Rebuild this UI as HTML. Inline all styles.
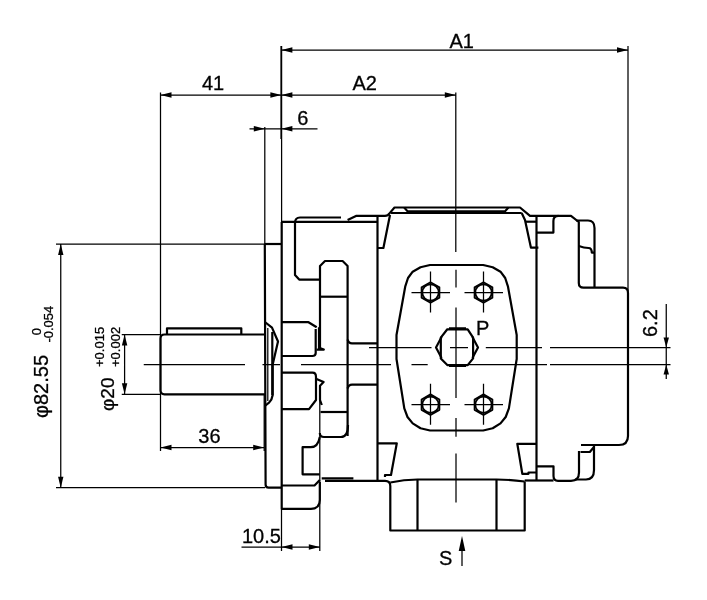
<!DOCTYPE html>
<html lang="en"><head><meta charset="utf-8"><title>Pump dimension drawing</title>
<style>html,body{margin:0;padding:0;background:#fff}svg{display:block}</style>
</head><body>
<svg width="707" height="600" viewBox="0 0 707 600">
<rect width="707" height="600" fill="#fff"/>
<g fill="none" stroke="#000" stroke-width="1.25">
<path d="M281.60 46.00V222.00M281.00 46.00V139.00M281.40 50.00H628.00M628.00 46.00V296.00M160.50 95.00H455.80M160.50 92.50V451.00M455.80 92.50V252.00M249.50 128.75H317.50M264.80 127.00V244.00M56.00 244.00H265.00M56.00 487.70H265.00M60.75 244.00V487.70M121.75 334.50H160.50M121.75 394.30H160.50M124.60 334.50V394.30M160.50 447.50H264.20M264.20 395.00V451.00M281.50 509.00V551.00M319.80 400.00V551.00M241.50 547.00H319.80M666.25 304.00V379.00M369.00 347.60H431.50M450.00 347.60H468.00M485.80 347.60H542.00M550.00 347.60H670.50M143.75 364.60H245.00M262.50 364.60H280.00M301.00 364.60H391.00M411.50 364.60H427.70M466.70 364.60H547.00M550.00 364.60H670.50M456.00 269.70V287.60M456.00 307.60V398.00M456.00 418.00V436.80M456.00 453.50V502.50M462.00 540.00V566.00M411.50 292.50H450.00M430.50 271.50V312.50M464.50 292.50H503.00M483.50 271.50V312.50M411.50 404.70H450.00M430.50 383.70V424.70M464.50 404.70H503.00M483.50 383.70V424.70M267.8 328V401"/>
</g>
<g fill="#000" stroke="none"><polygon points="281.40,50.00 292.40,47.30 292.40,52.70"/><polygon points="628.00,50.00 617.00,47.30 617.00,52.70"/><polygon points="160.50,95.00 171.50,92.30 171.50,97.70"/><polygon points="281.40,95.00 270.40,92.30 270.40,97.70"/><polygon points="281.40,95.00 292.40,92.30 292.40,97.70"/><polygon points="455.80,95.00 444.80,92.30 444.80,97.70"/><polygon points="264.80,128.75 253.80,126.05 253.80,131.45"/><polygon points="281.40,128.75 292.40,126.05 292.40,131.45"/><polygon points="60.75,244.00 58.05,255.00 63.45,255.00"/><polygon points="60.75,487.70 58.05,476.70 63.45,476.70"/><polygon points="124.60,334.50 121.90,345.50 127.30,345.50"/><polygon points="124.60,394.30 121.90,383.30 127.30,383.30"/><polygon points="160.50,447.50 171.50,444.80 171.50,450.20"/><polygon points="264.20,447.50 253.20,444.80 253.20,450.20"/><polygon points="281.50,547.00 292.50,544.30 292.50,549.70"/><polygon points="319.80,547.00 308.80,544.30 308.80,549.70"/><polygon points="666.25,347.50 663.55,337.50 668.95,337.50"/><polygon points="666.25,364.60 663.55,374.60 668.95,374.60"/><polygon points="462.00,536.00 458.70,551.00 465.30,551.00"/></g>
<g fill="none" stroke="#000" stroke-width="2.2" stroke-linejoin="round" stroke-linecap="butt">
<path d="M265 334.5H164.5Q160.5 334.5 160.5 338.5V390.3Q160.5 394.3 164.5 394.3H265"/>
<path d="M167 334.5V328.3H241.3V334.5"/>
<path d="M264.8 244L265.6 484.5Q265.6 487.7 268.6 487.7H281.5"/>
<path d="M264.9 244H281.5"/>
<path d="M281.7 222V508.8H311Q319.8 508.8 319.8 500V482"/>
<path d="M281.7 221.8H377"/>
<path d="M341 217.5H300Q295 217.5 295 223V275L299.2 279.6H320"/>
<path d="M347.6 220L356 215.9H385Q388 215.9 389.5 213.4L394.5 207.5H520L530 215.9H571L578.8 222V283Q578.8 287.7 583.5 287.7H623Q628 287.7 628 293V436Q628 445 619 445H581"/>
<path d="M391 213H521.7"/>
<path d="M404.2 207.5L407.6 211.4H505L508.4 207.5"/>
<path d="M377.5 216.4V481"/>
<path d="M377.5 248H383.4L390 215"/>
<path d="M521.7 213L525 220L530.9 247.6H538.4"/>
<path d="M526 221.7H536.4"/>
<path d="M536.5 215.9V480"/>
<path d="M536.5 232.6H553.4V221Q553.4 215.9 558.4 215.9"/>
<path d="M576 220.5H588Q594.5 220.5 594.5 228V287.7"/>
<path d="M578.8 246Q584 248 588.5 248Q591.8 248 591.8 252.6H594.5"/>
<path d="M320 349V266L325 261H342.6L347.6 266V436"/>
<path d="M320 296.7H347.6"/>
<path d="M347.6 339.5Q348.5 343.4 352 343.4H377.5"/>
<path d="M347.6 388.5Q348.5 384.7 352 384.7H377.5"/>
<path d="M281.7 322.2H308.5L316.7 327.3"/>
<path d="M315.7 329V353Q315.7 356 312.3 356H281.7"/>
<path d="M319 327.3V347.7L323.8 349.6H316.5"/>
<path d="M281.7 372.7H312.5Q316 372.7 316 377V400L309 409.2H281.7"/>
<path d="M316.5 379L323.6 382L320 385.7V400L321.8 405"/>
<path d="M264.9 322L272 327.6L278 341.5L272.7 364.6V395Q272 400 269 402.7L264.9 406"/>
<path d="M272.3 332V395"/>
<path d="M320.5 412H348"/>
<path d="M348 425Q348 437 341 437H324Q319.8 437 319.8 433"/>
<path d="M319.8 437Q318 447.2 310.8 447.2H302.6V474.3H319.8"/>
<path d="M321.7 478.4H353.4"/>
<path d="M325 480.9H385Q390.3 480.9 390.3 486V530.5H524.7V481.5"/>
<path d="M281.7 485.5H314.5L319.8 480"/>
<path d="M417.5 479.5V530.5M496.5 479.5V530.5"/>
<path d="M390.3 482.5Q404 479.5 417.5 479.5H496.5Q510 479.5 524.7 481.5"/>
<path d="M377.5 443.3H396.8L391 475H385V477"/>
<path d="M536.5 443.8H517.3L522.3 473.8H528.5V472.5H536.5"/>
<path d="M524.7 480.5H553.5"/>
<path d="M536.5 466.3H553.5V476Q553.5 480.8 558 480.8H571Q579 480.8 579 472.5V451"/>
<path d="M594 445V470Q594 479.5 586 479.5H575"/>
<path d="M580.5 452H589.8L594 447"/>
<path d="M430.00 430.50L420.50 428.20L412.70 423.40L407.50 417.00L404.30 408.40L396.50 359.00L396.50 335.00L405.20 286.70L408.00 278.00L412.70 271.70L420.50 267.30L430.00 265.00L483.20 265.00L492.70 267.30L500.50 271.70L505.20 278.00L508.00 286.70L516.70 335.00L516.70 359.00L508.90 408.40L505.70 417.00L500.50 423.40L492.70 428.20L483.20 430.50Z"/>
<path d="M447.3 329.3H467.7L473.1 337.6V358.4L467.7 365.1H447.3L440.8 358.4V337.6Z"/>
<path d="M449 328.4H466M449 366H466"/>
<path d="M441.6 337L436 347.4L441.6 358M472.4 337L478 347.4L472.4 358"/>
</g>
<g fill="none" stroke="#000" stroke-width="1.8" stroke-linejoin="round">
<path d="M430.50 302.80L421.58 297.65L421.58 287.35L430.50 282.20L439.42 287.35L439.42 297.65Z"/>
<path d="M483.50 302.80L474.58 297.65L474.58 287.35L483.50 282.20L492.42 287.35L492.42 297.65Z"/>
<path d="M430.50 415.00L421.58 409.85L421.58 399.55L430.50 394.40L439.42 399.55L439.42 409.85Z"/>
<path d="M483.50 415.00L474.58 409.85L474.58 399.55L483.50 394.40L492.42 399.55L492.42 409.85Z"/>
<circle cx="430.5" cy="292.5" r="8.2"/>
<circle cx="483.5" cy="292.5" r="8.2"/>
<circle cx="430.5" cy="404.7" r="8.2"/>
<circle cx="483.5" cy="404.7" r="8.2"/>
</g>
<g fill="#000" opacity="0.999" stroke="#000" stroke-width="0.3" font-family="'Liberation Sans', sans-serif">
<text x="449.50" y="47.50" font-size="20">A1</text>
<text x="352.50" y="90.00" font-size="20">A2</text>
<text x="202.00" y="90.00" font-size="20">41</text>
<text x="297.30" y="124.50" font-size="20">6</text>
<text x="198.30" y="442.50" font-size="20">36</text>
<text x="242.00" y="542.50" font-size="20">10.5</text>
<text x="476.00" y="334.80" font-size="20">P</text>
<text x="439.00" y="564.50" font-size="20">S</text>
<text transform="translate(657.00 337.00) rotate(-90)" font-size="20">6.2</text>
<text transform="translate(47.50 418.00) rotate(-90)" font-size="20">φ82.55</text>
<text transform="translate(113.50 411.00) rotate(-90)" font-size="19">φ20</text>
<text transform="translate(40.60 335.30) rotate(-90)" font-size="13">0</text>
<text transform="translate(52.90 342.60) rotate(-90)" font-size="13">-0.054</text>
<text transform="translate(104.40 367.00) rotate(-90)" font-size="13">+0.015</text>
<text transform="translate(120.00 367.00) rotate(-90)" font-size="13">+0.002</text>
</g></svg>
</body></html>
